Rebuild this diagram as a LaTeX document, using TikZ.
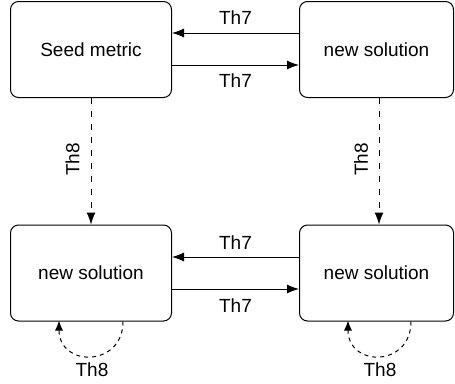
\documentclass[tikz,border=0pt]{standalone}
\usepackage{fontspec}
\setmainfont{Liberation Sans}
\usetikzlibrary{arrows.meta}
\begin{document}
\begin{tikzpicture}[x=1pt,y=-1pt,
  txt/.style={font=\fontsize{19}{22}\selectfont},
  box/.style={draw, rounded corners=8pt, line width=1pt, minimum width=161pt,
    minimum height=96pt, inner sep=0pt, txt},
  lbl/.style={txt, inner sep=0pt},
  conn/.style={line width=1pt, -{Latex[length=12pt,width=9pt]}},
  dconn/.style={conn, dash pattern=on 6pt off 7pt},
  lconn/.style={line width=1pt, dash pattern=on 4pt off 4pt, -{Latex[length=10pt,width=8pt]}}]
\useasboundingbox (0,0) rectangle (455,383);
% boxes
\node[box] (A) at (91,49.5) {Seed metric};
\node[box, minimum width=154pt] (B) at (376.5,49.5) {new solution};
\node[box] (C) at (91,273) {new solution};
\node[box, minimum width=154pt] (D) at (376.5,273) {new solution};
% top horizontal connectors
\draw[conn] ([yshift=16.5pt]B.west) -- ([yshift=16.5pt]A.east);
\draw[conn] ([yshift=-15.5pt]A.east) -- ([yshift=-15.5pt]B.west);
\node[lbl] (t1) at (235.5,18) {Th7};
\node[lbl] (t2) at (235.5,81) {Th7};
% bottom horizontal connectors
\draw[conn] ([yshift=16pt]D.west) -- ([yshift=16pt]C.east);
\draw[conn] ([yshift=-16pt]C.east) -- ([yshift=-16pt]D.west);
\node[lbl] (t3) at (235.5,242.5) {Th7};
\node[lbl] (t4) at (235.5,306) {Th7};
% vertical dashed connectors
\draw[dconn] (A.south) -- (C.north);
\draw[dconn] ([xshift=2.5pt]B.south) -- ([xshift=2.5pt]D.north);
\node[lbl, rotate=90] (v1) at (72.5,159.5) {Th8};
\node[lbl, rotate=90] (v2) at (361,159.5) {Th8};
% self loops
\draw[lconn, shorten >=-1pt] ([xshift=32pt]C.south) .. controls +(0,46) and +(0,46) .. ([xshift=-32pt]C.south);
\draw[lconn, shorten >=-1pt] ([xshift=34.5pt]D.south) .. controls +(0,46) and +(0,46) .. ([xshift=-28.5pt]D.south);
\node[lbl] (s1) at (92,370) {Th8};
\node[lbl] (s2) at (380,370) {Th8};
\end{tikzpicture}
\end{document}
